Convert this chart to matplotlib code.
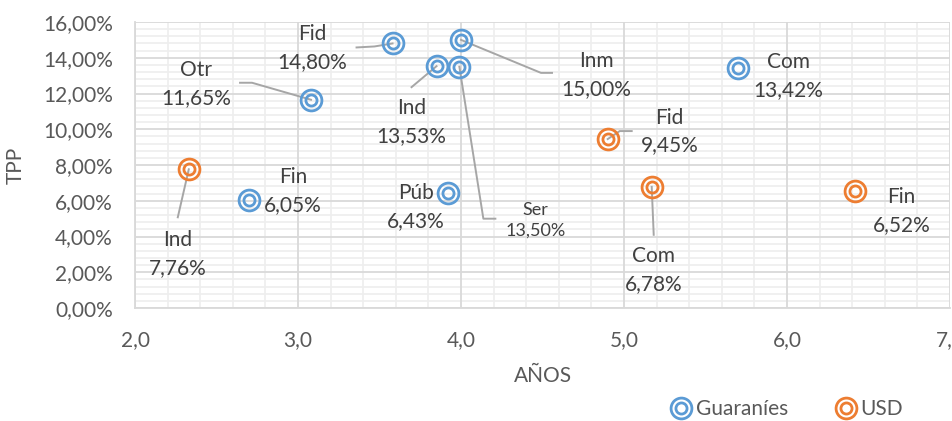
import numpy as np
import matplotlib
matplotlib.use("Agg")
import matplotlib.pyplot as plt
from matplotlib.ticker import MultipleLocator, FuncFormatter
from matplotlib.legend_handler import HandlerTuple
from matplotlib.lines import Line2D

plt.rcParams['font.family'] = ['Lato', 'DejaVu Sans']

# Guaraníes
gs_names = ["Otr", "Fid", "Ind", "Ser", "Inm", "Com", "Fin", "Púb"]
gs_anios = [3.08, 3.58, 3.85, 3.99, 4.00, 5.70, 2.70, 3.92]
gs_tpp = [11.65, 14.80, 13.53, 13.50, 15.00, 13.42, 6.05, 6.43]

# USD
usd_names = ["Ind", "Fid", "Com", "Fin"]
usd_anios = [2.33, 4.90, 5.17, 6.42]
usd_tpp = [7.76, 9.45, 6.78, 6.52]

BLUE = "#5B9BD5"
ORANGE = "#ED7D31"
TXT = "#404040"
LEAD = "#A6A6A6"
FS = 15

fig = plt.figure(figsize=(9.53, 4.21), dpi=100)
ax = fig.add_axes([135/953, 1-308/421, (950-135)/953, (308-22)/421])

ax.set_xlim(2, 7)
ax.set_ylim(0, 16)
ax.xaxis.set_major_locator(MultipleLocator(1))
ax.xaxis.set_minor_locator(MultipleLocator(0.2))
ax.yaxis.set_major_locator(MultipleLocator(2))
ax.yaxis.set_minor_locator(MultipleLocator(0.4))
ax.xaxis.set_major_formatter(FuncFormatter(lambda v, p: f"{v:.1f}".replace(".", ",")))
ax.yaxis.set_major_formatter(FuncFormatter(lambda v, p: f"{v:.2f}%".replace(".", ",")))

# gridlines: minor under major
for v in ax.xaxis.get_minorticklocs():
    ax.axvline(v, color="#EEEEEE", lw=1.2, zorder=0.5)
for v in ax.yaxis.get_minorticklocs():
    ax.axhline(v, color="#EEEEEE", lw=1.2, zorder=0.5)
for v in ax.xaxis.get_majorticklocs():
    ax.axvline(v, color="#D9D9D9", lw=1.3, zorder=0.6)
for v in ax.yaxis.get_majorticklocs():
    ax.axhline(v, color="#D9D9D9", lw=1.3, zorder=0.6)

for s in ["top", "right"]:
    ax.spines[s].set_visible(False)
for s in ["left", "bottom"]:
    ax.spines[s].set_color("#D9D9D9")
    ax.spines[s].set_linewidth(1.3)
ax.tick_params(which="both", length=0, labelsize=FS, labelcolor="#595959")
ax.tick_params(axis="y", pad=16)
ax.tick_params(axis="x", pad=16)
ax.set_xlabel("AÑOS", fontsize=FS, color="#595959", labelpad=11)
ax.set_ylabel("TPP", fontsize=FS, color="#595959", labelpad=12)


def rings(x, y, c):
    ax.plot(x, y, "o", ls="none", ms=15, mfc="none", mec=c, mew=2.0, zorder=4, clip_on=False)
    ax.plot(x, y, "o", ls="none", ms=8, mfc="none", mec=c, mew=2.0, zorder=4, clip_on=False)


rings(gs_anios, gs_tpp, BLUE)
rings(usd_anios, usd_tpp, ORANGE)

# label layout: text-centre offset (pixels) and leader vertices (pixels)
gs_layout = [
    ((-115, 15.5), [(-59, 17), (-71, 17)]),
    ((-80, -4.5), [(-18, -3), (-36, -4)]),
    ((-25, -55.5), [(-25, -21)]),
    ((76, -153.5), [(24, -152), (36, -152)]),
    ((135, -35.5), [(80, -33), (91, -33)]),
    ((50, -8), []),
    ((44, 8.5), []),
    ((-32, -14), []),
]
usd_layout = [
    ((-11, -84.5), [(-11, -48)]),
    ((62, 7.5), [(12, 8), (24, 8)]),
    ((2, -83), [(2, -48)]),
    ((46, -20), []),
]


def label(names, xs, ys, layout):
    for n, x, y, (off, lead) in zip(names, xs, ys, layout):
        small = n == "Ser" and off[1] < -100
        fs = 13 if small else FS
        txt = f"{n}\n{y:.2f}%".replace(".", ",")
        ax.annotate(txt, (x, y), xytext=off, textcoords="offset pixels",
                    ha="center", va="center", fontsize=fs, color=TXT,
                    linespacing=1.4 if small else 1.5, zorder=5)
        if lead:
            px, py = ax.transData.transform((x, y))
            pts = [(px, py)] + [(px + dx, py + dy) for dx, dy in lead]
            data = ax.transData.inverted().transform(pts)
            ax.plot(data[:, 0], data[:, 1], color=LEAD, lw=1.4, zorder=3, clip_on=False)


label(gs_names, gs_anios, gs_tpp, gs_layout)
label(usd_names, usd_anios, usd_tpp, usd_layout)


def handle(c):
    return (Line2D([], [], marker="o", ls="none", ms=15, mfc="none", mec=c, mew=2.0),
            Line2D([], [], marker="o", ls="none", ms=8, mfc="none", mec=c, mew=2.0))


fig.legend([handle(BLUE), handle(ORANGE)], ["Guaraníes", "USD"],
           handler_map={tuple: HandlerTuple(ndivide=1, pad=0)},
           loc="center", bbox_to_anchor=(788/953, 1-409/421), ncol=2, frameon=False,
           fontsize=FS, labelcolor="#595959", handlelength=0.8, handletextpad=0.3,
           columnspacing=2.4)

fig.savefig("out.png", dpi=100)
